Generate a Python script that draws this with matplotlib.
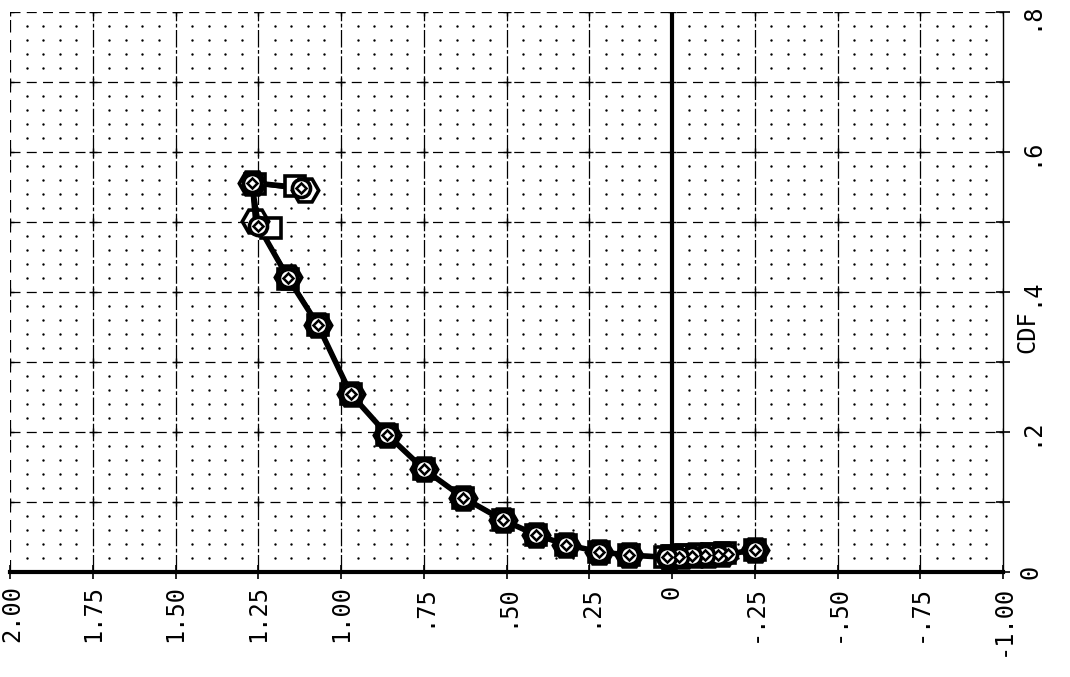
import numpy as np
import matplotlib.pyplot as plt
import matplotlib.transforms as mtransforms

# 横轴数值 (从右往左递增), 纵轴为 CDF
x_circ = [-0.25, -0.17, -0.14, -0.10, -0.06, -0.02, 0.015, 0.13, 0.22, 0.32, 0.41, 0.51, 0.63, 0.75, 0.86, 0.97, 1.07, 1.16, 1.25, 1.27, 1.12]
y_circ = [0.031, 0.026, 0.025, 0.024, 0.023, 0.022, 0.021, 0.024, 0.029, 0.039, 0.053, 0.074, 0.106, 0.147, 0.196, 0.254, 0.353, 0.420, 0.495, 0.556, 0.549]

x_sq = [-0.25, -0.16, -0.12, -0.08, -0.04, 0.00, 0.02, 0.13, 0.22, 0.32, 0.41, 0.51, 0.63, 0.75, 0.86, 0.97, 1.07, 1.16, 1.21, 1.26, 1.14]
y_sq = [0.032, 0.027, 0.026, 0.025, 0.024, 0.023, 0.022, 0.024, 0.029, 0.039, 0.053, 0.074, 0.106, 0.147, 0.196, 0.254, 0.353, 0.418, 0.492, 0.554, 0.552]

x_hex = [-0.25, -0.15, -0.11, -0.07, -0.03, 0.01, 0.13, 0.22, 0.32, 0.41, 0.51, 0.63, 0.75, 0.86, 0.97, 1.07, 1.16, 1.26, 1.27, 1.11]
y_hex = [0.031, 0.026, 0.025, 0.024, 0.023, 0.022, 0.024, 0.029, 0.039, 0.053, 0.074, 0.106, 0.147, 0.196, 0.254, 0.353, 0.422, 0.502, 0.556, 0.546]

x_ticks = [2.0, 1.75, 1.5, 1.25, 1.0, 0.75, 0.5, 0.25, 0.0, -0.25, -0.5, -0.75, -1.0]
x_labels = ["2.00", "1.75", "1.50", "1.25", "1.00", ".75", ".50", ".25", "0", "-.25", "-.50", "-.75", "-1.00"]
y_ticks = [0, 0.2, 0.4, 0.6, 0.8]
y_labels = ["0", ".2", ".4", ".6", ".8"]

plt.rcParams['font.family'] = ['DejaVu Sans Mono', 'DejaVu Sans']

fig = plt.figure(figsize=(10.7, 6.77), dpi=100)
ax = fig.add_axes([10 / 1070, 1 - 572 / 677, 993 / 1070, 560 / 677])
ax.set_xlim(2.0, -1.0)
ax.set_ylim(0, 0.8)

# 点阵背景
gx = np.arange(-1.0, 2.0001, 0.05)
gy = np.arange(0.0, 0.8001, 0.02)
gx = gx[np.abs(gx / 0.25 - np.round(gx / 0.25)) > 1e-6]
gy = gy[np.abs(gy / 0.1 - np.round(gy / 0.1)) > 1e-6]
GX, GY = np.meshgrid(gx, gy)
ax.scatter(GX.ravel(), GY.ravel(), s=3, c='black', lw=0, zorder=1)

# 网格线
for xv in x_ticks[1:-1]:
    ax.axvline(xv, color='black', lw=0.9, ls=(0, (14, 2, 3, 2)), zorder=1)
ax.axvline(2.0, color='black', lw=0.9, ls=(0, (10, 6)), zorder=1)
for yv in np.arange(0.1, 0.81, 0.1):
    ax.axhline(yv, color='black', lw=0.9, ls=(0, (8, 5)), zorder=1)
hx, hy = np.meshgrid(x_ticks, np.arange(0.1, 0.81, 0.1))
ax.scatter(hx.ravel(), hy.ravel(), marker='+', s=40, c='black', lw=1.0, zorder=2)

# 零线
ax.plot([0, 0], [0, 0.8], color='black', lw=3, zorder=3)

# 数据
ax.plot(x_circ, y_circ, color='black', lw=4, zorder=4)
ax.plot(x_hex, y_hex, color='black', lw=3, zorder=4)
ax.plot(x_sq, y_sq, ls='none', marker='s', ms=15, mfc='white', mec='black', mew=2.6, zorder=5)
ax.plot(x_hex, y_hex, ls='none', marker='H', ms=19, mfc='none', mec='black', mew=2.6, zorder=6)
ax.plot(x_circ, y_circ, ls='none', marker='o', ms=13, mfc='white', mec='black', mew=2.6, zorder=7)
ax.plot(x_circ, y_circ, ls='none', marker='D', ms=5, mfc='white', mec='black', mew=1.8, zorder=8)

# 坐标轴
for s in ['top', 'left']:
    ax.spines[s].set_visible(False)
ax.spines['bottom'].set_linewidth(3)
ax.spines['right'].set_linewidth(1.0)
ax.set_xticks(x_ticks)
ax.set_xticklabels(x_labels, rotation=90, fontsize=17)
ax.yaxis.tick_right()
ax.set_yticks(y_ticks)
ax.set_yticklabels(y_labels, rotation=90, fontsize=17, va='center')
ax.set_yticks(np.arange(0.1, 0.8, 0.2), minor=True)
ax.tick_params(axis='x', direction='inout', length=10, width=1.2, pad=4)
ax.tick_params(axis='y', which='both', direction='inout', length=10, width=1.2, pad=6)
xl = ax.get_xticklabels()
xl[0].set_transform(xl[0].get_transform() + mtransforms.ScaledTranslation(2 / 100, 0, fig.dpi_scale_trans))
yl = ax.get_yticklabels()
yl[-1].set_transform(yl[-1].get_transform() + mtransforms.ScaledTranslation(0, -4 / 100, fig.dpi_scale_trans))
ax.text(1.012, 0.43, "CDF", transform=ax.transAxes, rotation=90, fontsize=17,
        ha='left', va='center')

fig.savefig("out.png", dpi=100)
